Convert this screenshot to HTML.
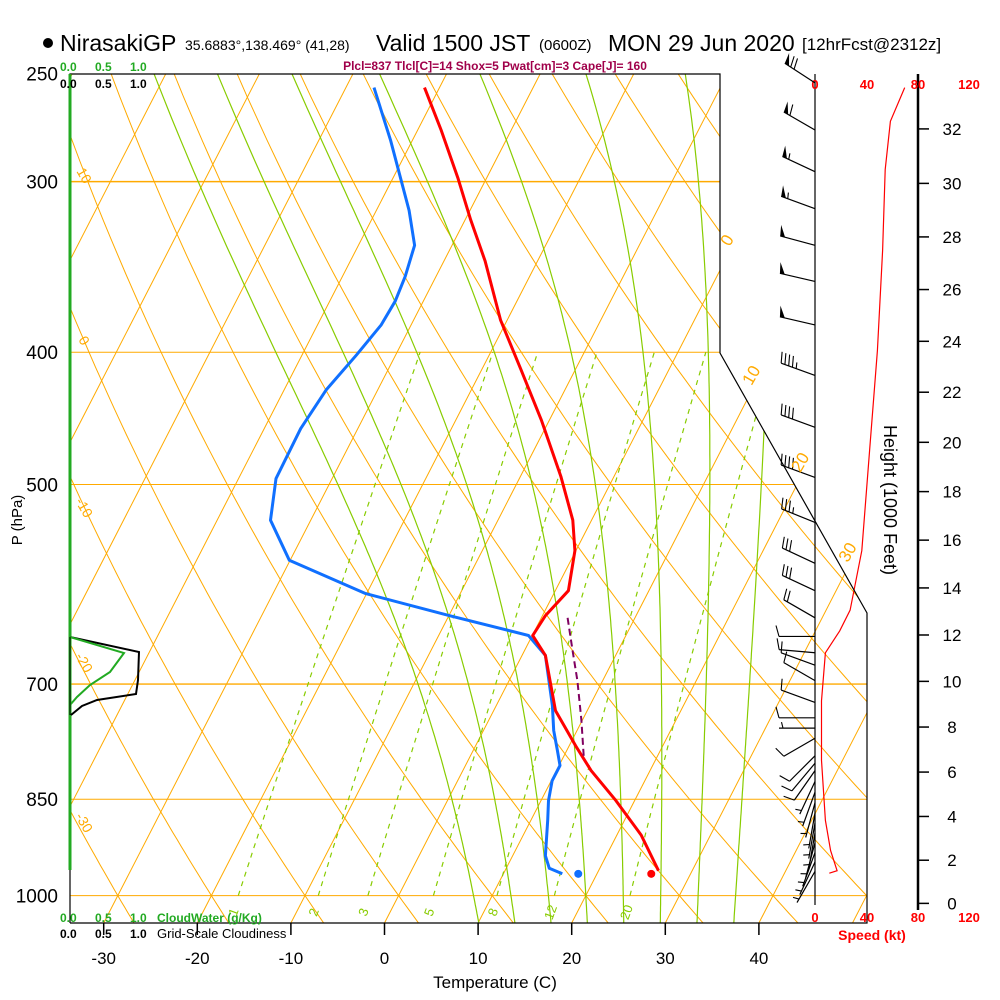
<!DOCTYPE html>
<html><head><meta charset="utf-8">
<style>
html,body{margin:0;padding:0;background:#fff;}
svg{display:block;font-family:"Liberation Sans",sans-serif;}
</style></head>
<body>
<svg id="chart" width="1000" height="1000" viewBox="0 0 1000 1000">
<rect x="0" y="0" width="1000" height="1000" fill="#fff"/>
<defs>
<clipPath id="plotclip"><polygon points="70,74 720,74 720,353 867,613 867,923 70,923"/></clipPath>
</defs>
<g>
<circle cx="48" cy="43" r="5" fill="#000"/>
<text x="60" y="51" font-size="23">NirasakiGP</text>
<text x="185" y="50" font-size="14">35.6883°,138.469° (41,28)</text>
<text x="376" y="51" font-size="23">Valid 1500 JST</text>
<text x="539" y="50" font-size="15">(0600Z)</text>
<text x="608" y="51" font-size="23">MON 29 Jun 2020</text>
<text x="802" y="50" font-size="17">[12hrFcst@2312z]</text>
</g>
<text x="495" y="70" font-size="12" font-weight="bold" fill="#a0004a" text-anchor="middle">Plcl=837 Tlcl[C]=14 Shox=5 Pwat[cm]=3 Cape[J]= 160</text>
<g id="grid" clip-path="url(#plotclip)"></g>
<g id="series"></g>
<g id="frame">
<polyline points="70,923 70,74 720,74 720,353 867,613 867,923 70,923" fill="none" stroke="#000" stroke-width="1.2"/>
<line x1="70" y1="74" x2="70" y2="870" stroke="#22aa22" stroke-width="3"/>
<line x1="815" y1="74" x2="815" y2="905" stroke="#000" stroke-width="1.2"/>
<line x1="918" y1="74" x2="918" y2="910" stroke="#000" stroke-width="2.5"/>
</g>
<g font-size="12" font-weight="bold">
<text x="60" y="71" fill="#22aa22">0.0</text><text x="95" y="71" fill="#22aa22">0.5</text><text x="130" y="71" fill="#22aa22">1.0</text>
<text x="60" y="88">0.0</text><text x="95" y="88">0.5</text><text x="130" y="88">1.0</text>
<text x="60" y="922" fill="#22aa22">0.0</text><text x="95" y="922" fill="#22aa22">0.5</text><text x="130" y="922" fill="#22aa22">1.0</text>
<text x="157" y="922" fill="#22aa22">CloudWater (g/Kg)</text>
<text x="60" y="938">0.0</text><text x="95" y="938">0.5</text><text x="130" y="938">1.0</text>
<text x="157" y="938" font-weight="normal" font-size="13">Grid-Scale Cloudiness</text>
</g>
<g>
<polyline points="70,637 139,652 138,680 136,694 97,700 82,706 71,715" fill="none" stroke="#000" stroke-width="2"/>
<polyline points="70,637 124,653 110,672 90,685 77,697 70,705" fill="none" stroke="#22aa22" stroke-width="2"/>
<line x1="70" y1="637" x2="70" y2="715" stroke="#000" stroke-width="1"/>
</g>
<g id="paxis"></g>
<text transform="translate(22,520) rotate(-90)" font-size="15" text-anchor="middle">P (hPa)</text>
<g id="taxis"></g>
<text x="495" y="988" font-size="17" text-anchor="middle">Temperature (C)</text>
<g id="haxis"></g>
<text transform="translate(884,500) rotate(90)" font-size="18" text-anchor="middle">Height (1000 Feet)</text>
<g font-size="13" font-weight="bold" fill="#ff0000" text-anchor="middle">
<text x="815" y="89">0</text><text x="867" y="89">40</text><text x="918" y="89">80</text><text x="969" y="89">120</text>
<text x="815" y="922">0</text><text x="867" y="922">40</text><text x="918" y="922">80</text><text x="969" y="922">120</text>
<text x="872" y="940" font-size="14">Speed (kt)</text>
</g>
<g id="winds"></g>
<script>
// ---- data ----
const pressureLevels = [250,300,400,500,700,850,1000];
const tempTicks = [-30,-20,-10,0,10,20,30,40];
const heightTicks = [0,2,4,6,8,10,12,14,16,18,20,22,24,26,28,30,32];
const isothermVals = [-120,-110,-100,-90,-80,-70,-60,-50,-40,-30,-20,-10,0,10,20,30,40,50];
const dryAdiabatVals = [-40,-30,-20,-10,0,10,20,30,40,50,60,70,80,90,100,110,120,130,140,150];
const moistAdiabatVals = [8,12,16,20,24,28,32,36];
const mixingVals = [1,2,3,5,8,12,20];
const tempP = [256,275,298,320,343,379,412,449,493,531,559,598,624,645,667,732,777,810,852,903,959];
const tempT = [-41.6,-37.5,-33.1,-29.4,-25.6,-20.7,-15.8,-10.8,-5.7,-2.0,-0.1,1.4,0.3,0.05,2.5,6.6,10.7,13.7,18.0,22.6,26.4];
const dewP = [256,280,315,334,352,367,382,402,426,455,495,531,568,601,624,645,667,726,757,783,803,824,852,881,935,955,964];
const dewT = [-47.0,-42.3,-36.5,-34.0,-33.3,-33.0,-33.2,-34.2,-35.5,-36.1,-36.0,-34.3,-30.1,-20.1,-9.8,-0.4,2.5,6.0,7.5,9.0,10.1,10.1,10.8,11.8,13.5,14.6,16.3];
const parcelP = [626,661,696,744,790];
const parcelT = [2.8,5.1,7.3,9.9,12.1];
const sfcP = 964;
const sfcT = 25.8;
const sfcTd = 18.0;
const speedP = [256,271,294,337,399,472,559,618,640,664,720,796,881,927,959,963];
const speedKt = [69,58,54,52,48,42,36,27,19,8,5,5,8,12,17,11];
const windP = [254,275,295,314,334,355,382,416,454,494,533,571,598,626,646,664,678,696,722,741,754,767,790,800,810,825,840,855,870,885,900,915,930,945,960];
const windDir = [303,300,295,290,285,283,283,290,290,290,292,295,295,300,270,275,290,300,290,270,270,240,225,220,215,205,200,195,190,190,190,195,200,205,210];
const windSpd = [68,60,55,53,52,50,50,45,42,40,35,30,28,22,12,10,8,10,10,10,6,8,8,8,8,7,6,4,4,5,5,5,5,5,5];

// ---- axis functions ----
const NS='http://www.w3.org/2000/svg';
function yP(p){return 73.5+593*Math.log(p/250);}
function xT(T,y){return 384.5+9.36*T+0.514*(923-y);}
function xS(s){return 815+1.3*s;}
function mk(tag,attrs,parent){const e=document.createElementNS(NS,tag);for(const k in attrs)e.setAttribute(k,attrs[k]);parent.appendChild(e);return e;}
function pathFrom(pts){return pts.map((q,i)=>(i?'L':'M')+q[0].toFixed(1)+','+q[1].toFixed(1)).join('');}
const grid=document.getElementById('grid');
const ORANGE='#ffaa00', GREEN='#88cc00';

pressureLevels.forEach(p=>{
  const l=mk('line',{x1:70,x2:867,y1:yP(p),y2:yP(p),stroke:ORANGE,'stroke-width':(p==300||p==700)?1.4:1},grid);
  
  
});
isothermVals.forEach(T=>{
  const l=mk('line',{x1:xT(T,923),y1:923,x2:xT(T,74),y2:74,stroke:ORANGE,'stroke-width':1},grid);
  
  
});
dryAdiabatVals.forEach(th=>{
  const pts=[];
  for(let p=1060;p>=240;p-=10){const T=(th+273.15)*Math.pow(p/1000,0.2857)-273.15;const y=yP(p);pts.push([xT(T,y),y]);}
  const e=mk('path',{d:pathFrom(pts),fill:'none',stroke:ORANGE,'stroke-width':1},grid);
  
  
});
function es(Tc){return 6.112*Math.exp(17.67*Tc/(Tc+243.5));}
function dTdp(T,p){const Tc=T-273.15;const e=es(Tc);const rs=0.622*e/(p-e);const Rd=287,cp=1004,Lv=2.5e6;
  return (Rd*T+Lv*rs)/(p*(cp+Lv*Lv*rs*0.622/(Rd*T*T)));}
moistAdiabatVals.forEach(tw=>{
  const pts=[];
  let T=tw+273.15;
  let Td=T;const down=[];
  for(let p=1000;p<1060;p+=5){Td+=dTdp(Td,p)*5;down.push([p+5,Td]);}
  down.reverse().forEach(d=>{const y=yP(d[0]);pts.push([xT(d[1]-273.15,y),y]);});
  pts.push([xT(tw,yP(1000)),yP(1000)]);
  for(let p=1000;p>240;p-=5){T-=dTdp(T,p)*5;const y=yP(p-5);pts.push([xT(T-273.15,y),y]);}
  const e=mk('path',{d:pathFrom(pts),fill:'none',stroke:GREEN,'stroke-width':1.2},grid);
  
  
});
function tdFromW(w,p){const e=(w/1000)*p/(0.622+w/1000);const a=Math.log(e/6.112);return 243.5*a/(17.67-a);}
mixingVals.forEach(w=>{
  const pts=[];
  for(let p=1000;p>=400;p-=10){const y=yP(p);pts.push([xT(tdFromW(w,p),y),y]);}
  const e=mk('path',{d:pathFrom(pts),fill:'none',stroke:GREEN,'stroke-width':1.2,'stroke-dasharray':'5,5'},grid);
  
  
  const y=yP(1028);
  const t=mk('text',{x:xT(tdFromW(w,1028),y),y:y+5,fill:GREEN,'font-size':13,'text-anchor':'middle',transform:'rotate(-70 '+xT(tdFromW(w,1028),y)+' '+y+')'},grid);
  t.textContent=String(w);
  
  
});
const isoLbl=[[0,243],[10,378],[20,465],[30,555]];
isoLbl.forEach(a=>{
  const x=xT(a[0],a[1])-2;
  const t=mk('text',{x:x,y:a[1],fill:ORANGE,'font-size':17,'text-anchor':'middle',transform:'rotate(-60 '+x+' '+a[1]+')'},document.getElementById('chart'));
  t.textContent=String(a[0]);
  
  
});
const dryLbl=[[10,178],[0,343],[-10,510],[-20,665],[-30,825]];
dryLbl.forEach(a=>{
  const t=mk('text',{x:80,y:a[1],fill:ORANGE,'font-size':14,'text-anchor':'middle',transform:'rotate(60 80 '+a[1]+')'},document.getElementById('chart'));
  t.textContent=String(a[0]);
  
  
});

const ser=document.getElementById('series');
function profile(P,T){return P.map((p,i)=>{const y=yP(p);return [xT(T[i],y),y];});}
let e;
e=mk('path',{d:pathFrom(profile(dewP,dewT)),fill:'none',stroke:'#1070ff','stroke-width':3,'stroke-linejoin':'round'},ser);


e=mk('path',{d:pathFrom(profile(tempP,tempT)),fill:'none',stroke:'#ff0000','stroke-width':3,'stroke-linejoin':'round'},ser);


e=mk('path',{d:pathFrom(profile(parcelP,parcelT)),fill:'none',stroke:'#800060','stroke-width':2,'stroke-dasharray':'7,4'},ser);


e=mk('circle',{cx:xT(sfcT,yP(sfcP)),cy:yP(sfcP),r:4,fill:'#ff0000'},ser);


e=mk('circle',{cx:xT(sfcTd,yP(sfcP)),cy:yP(sfcP),r:4,fill:'#1070ff'},ser);


e=mk('path',{d:pathFrom(speedP.map((p,i)=>[xS(speedKt[i]),yP(p)])),fill:'none',stroke:'#ff0000','stroke-width':1.2},ser);



const pax=document.getElementById('paxis');
pressureLevels.forEach(p=>{
  const t=mk('text',{x:58,y:yP(p)+7,'font-size':19,'text-anchor':'end'},pax);
  t.textContent=String(p);
  
  
});
const tax=document.getElementById('taxis');
tempTicks.forEach(T=>{
  const x=xT(T,923);
  const l=mk('line',{x1:x,x2:x,y1:923,y2:935,stroke:'#000','stroke-width':1.5},tax);
  
  
  const t=mk('text',{x:x,y:964,'font-size':17,'text-anchor':'middle'},tax);
  t.textContent=String(T);
  
  
});
const hax=document.getElementById('haxis');
function pFromFt(ft){const m=ft*1000*0.3048;return 1013.25*Math.pow(1-2.25577e-5*m,5.25588);}
heightTicks.forEach(h=>{
  const y=yP(pFromFt(h));
  const l=mk('line',{x1:918,x2:929,y1:y,y2:y,stroke:'#000','stroke-width':1.5},hax);
  
  
  const t=mk('text',{x:952,y:y+6,'font-size':17,'text-anchor':'middle'},hax);
  t.textContent=String(h);
  
  
});

const wg=document.getElementById('winds');
windP.forEach((p,i)=>{
  const bx=815, by=yP(p), d=windDir[i]*Math.PI/180;
  const ux=Math.sin(d), uy=-Math.cos(d);
  const L=36, ex=bx+L*ux, ey=by+L*uy;
  const fx=-uy, fy=ux;
  const g=mk('g',{},wg);
  
  
  mk('line',{x1:bx,y1:by,x2:ex,y2:ey,stroke:'#000','stroke-width':1.2},g);
  let s=Math.round(windSpd[i]/5)*5, pos=0;
  while(s>=50){const px=ex-pos*ux,py=ey-pos*uy;
    mk('polygon',{points:px+','+py+' '+(px+11*fx+2*ux)+','+(py+11*fy+2*uy)+' '+(px-5*ux)+','+(py-5*uy),fill:'#000'},g);
    s-=50;pos+=7;}
  while(s>=10){const px=ex-pos*ux,py=ey-pos*uy;
    mk('line',{x1:px,y1:py,x2:px+11*fx+3*ux,y2:py+11*fy+3*uy,stroke:'#000','stroke-width':1.1},g);
    s-=10;pos+=4;}
  if(s>=5){if(pos==0)pos=4;const px=ex-pos*ux,py=ey-pos*uy;
    mk('line',{x1:px,y1:py,x2:px+6*fx+1.5*ux,y2:py+6*fy+1.5*uy,stroke:'#000','stroke-width':1.1},g);}
});
</script>
</svg>
</body></html>
